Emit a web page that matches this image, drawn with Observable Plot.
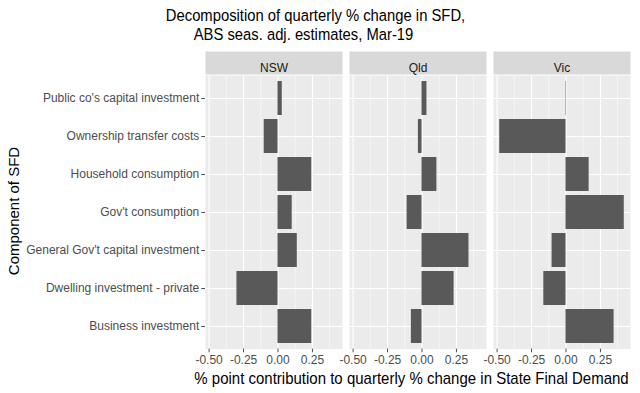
<!DOCTYPE html>
<html>
<head>
<meta charset="utf-8">
<script src="https://cdn.jsdelivr.net/npm/d3@7"></script>
<script src="https://cdn.jsdelivr.net/npm/@observablehq/plot@0.6"></script>
<style>
  html, body { margin: 0; padding: 0; background: #fff; }
  body { width: 640px; height: 393px; overflow: hidden; font-family: "Liberation Sans", Arial, sans-serif; }
  #wrap { position: relative; width: 640px; height: 393px; }
  #chart { position: absolute; left: 0; top: 0; }
  .t { position: absolute; white-space: pre; color: #000; line-height: 1; }
  #title1 { font-size: 14.8px; left: 315.5px; top: 8.5px; transform-origin: 50% 12.5px; transform: translateX(-50%) scaleY(1.13); }
  #title2 { font-size: 14.8px; left: 303.5px; top: 27.5px; transform-origin: 50% 12.5px; transform: translateX(-50%) scaleY(1.13); }
  #xtitle { font-size: 15px; left: 411.5px; top: 370.6px; transform-origin: 50% 12.7px; transform: translateX(-50%) scaleY(1.08); }
  #ytitle { font-size: 15px; left: 13px; top: 211px; transform: translate(-50%, -50%) rotate(-90deg); }
</style>
</head>
<body>
<div id="wrap">
  <div id="chart"></div>
  <div class="t" id="title1">Decomposition of quarterly % change in SFD,</div>
  <div class="t" id="title2">ABS seas. adj. estimates, Mar-19</div>
  <div class="t" id="xtitle">% point contribution to quarterly % change in State Final Demand</div>
  <div class="t" id="ytitle">Component of SFD</div>
</div>
<script>
const states = ["NSW", "Qld", "Vic"];
const components = [
  "Public co's capital investment",
  "Ownership transfer costs",
  "Household consumption",
  "Gov't consumption",
  "General Gov't capital investment",
  "Dwelling investment - private",
  "Business investment"
];
const nswValues = [0.031, -0.100, 0.245, 0.103, 0.140, -0.298, 0.245];
const qldValues = [0.036, -0.026, 0.108, -0.108, 0.341, 0.233, -0.077];
const vicValues = [0.003, -0.481, 0.168, 0.423, -0.101, -0.161, 0.349];
const xTicks = [-0.5, -0.25, 0, 0.25];
const xMinorTicks = [-0.375, -0.125, 0.125, 0.375];

const seriesByState = {NSW: nswValues, Qld: qldValues, Vic: vicValues};
const data = states.flatMap(s => components.map((c, i) => ({state: s, component: c, value: seriesByState[s][i]})));

const allVals = data.map(d => d.value);
const lo = d3.min(allVals), hi = d3.max(allVals);
const pad = (hi - lo) * 0.05;

const W = 640, H = 393;
const mTop = 75, mBottom = 44.4, mLeft = 203.3, mRight = 8.3;
const panelH = H - mTop - mBottom;

const chart = Plot.plot({
  width: W,
  height: H,
  marginTop: mTop,
  marginBottom: mBottom,
  marginLeft: mLeft,
  marginRight: mRight,
  style: {fontFamily: '"Liberation Sans", Arial, sans-serif', background: "transparent"},
  fx: {domain: states, paddingInner: 0.0455, paddingOuter: 0, axis: null, label: null},
  x: {domain: [lo - pad, hi + pad], label: null},
  y: {domain: components, paddingInner: 0.1, paddingOuter: 0.15, label: null},
  marks: [
    Plot.frame({fill: "#EBEBEB"}),
    Plot.frame({fill: "#D9D9D9", insetTop: -24, insetBottom: panelH + 1}),
    Plot.text(states, {fx: d => d, text: d => d, frameAnchor: "top", dy: -12.5, fontSize: 12, fill: "#1A1A1A"}),
    Plot.ruleX(xMinorTicks, {stroke: "#fff", strokeWidth: 0.55}),
    Plot.ruleX(xTicks, {stroke: "#fff", strokeWidth: 1.1}),
    Plot.gridY({stroke: "#fff", strokeOpacity: 1, strokeWidth: 1.1}),
    Plot.barX(data, {x: "value", y: "component", fx: "state", fill: "#595959"}),
    Plot.axisX({ticks: xTicks, tickFormat: d => d.toFixed(2), label: null, tickSize: 3.7, tickPadding: 2.5, fontSize: 12, color: "#4D4D4D"}),
    Plot.axisY({label: null, tickSize: 3.7, tickPadding: 2.5, fontSize: 12, color: "#4D4D4D"})
  ]
});
document.getElementById("chart").appendChild(chart);
</script>
</body>
</html>
